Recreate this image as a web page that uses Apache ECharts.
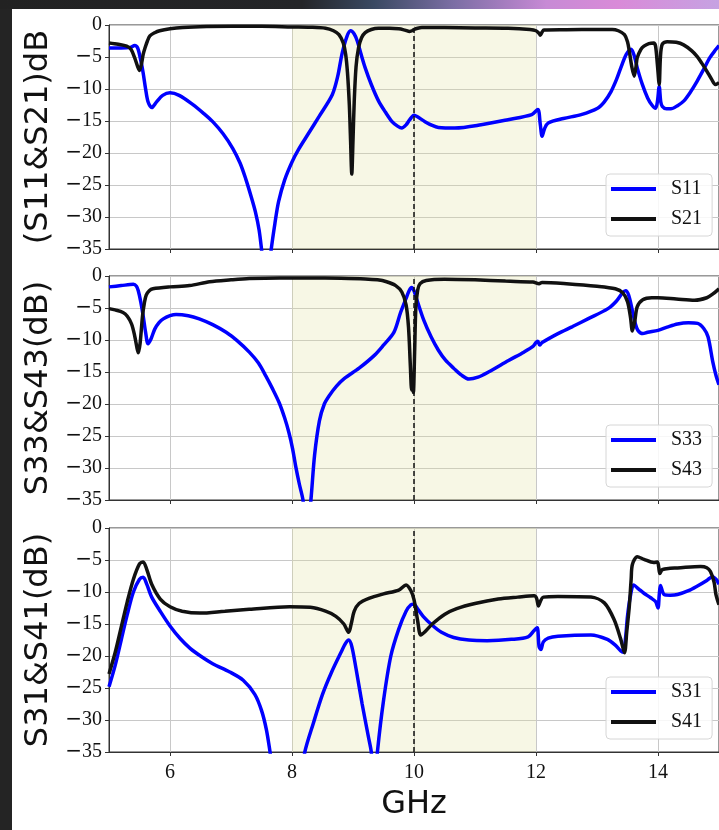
<!DOCTYPE html>
<html>
<head>
<meta charset="utf-8">
<script src="https://cdn.jsdelivr.net/npm/echarts@6/dist/echarts.min.js"></script>
<style>
  html, body { margin: 0; padding: 0; background: #242424; }
  #frame { position: relative; width: 719px; height: 830px; overflow: hidden; background: #242424; }
  #topband { position: absolute; left: 0; top: 0; width: 719px; height: 9px;
    background: linear-gradient(90deg, #222222 0%, #242528 42%, #3a4962 52%, #7b6ea4 63%, #c78ad5 76%, #d98ad8 86%, #c6a2e2 100%); }
  #sheet { position: absolute; left: 12px; top: 9px; right: 0; bottom: 0; background: #ffffff; }
  #chart { position: absolute; left: 0; top: 0; width: 719px; height: 830px; }
</style>
</head>
<body>
<div id="frame"><div id="topband"></div><div id="sheet"></div><div id="chart"></div></div>
<script>
// Frequency axis ticks (GHz) and passband shading
const freqTickValues = [6, 8, 10, 12, 14];
const passband = [8, 12];
const centreGHz = 10;

// Panel 1: S11 / S21
const s11Freq = [5.00,5.20,5.35,5.42,5.47,5.52,5.56,5.60,5.64,5.70,5.78,5.88,6.00,6.15,6.37,6.55,6.70,6.87,7.03,7.15,7.24,7.33,7.40,7.46,7.50,7.56,7.60,7.66,7.72,7.78,7.88,8.00,8.11,8.28,8.45,8.66,8.75,8.82,8.90,8.96,9.02,9.07,9.13,9.20,9.30,9.42,9.53,9.64,9.73,9.80,9.87,9.93,10.00,10.05,10.18,10.30,10.40,10.67,11.10,11.54,11.93,12.03,12.07,12.10,12.14,12.20,12.45,12.74,13.01,13.12,13.23,13.32,13.39,13.48,13.56,13.61,13.66,13.74,13.83,13.90,13.96,13.99,14.02,14.045,14.07,14.14,14.21,14.32,14.42,14.53,14.64,14.75,14.85,14.95,15.00];
const s11Db   = [-3.6,-3.6,-3.5,-3.2,-3.6,-5.5,-7.5,-10.0,-12.0,-12.9,-12.0,-11.0,-10.6,-11.0,-12.4,-13.8,-15.1,-17.0,-19.3,-21.6,-24.0,-26.8,-29.2,-32.0,-35.0,-40.0,-40.0,-35.0,-31.0,-27.6,-24.2,-21.4,-19.4,-16.8,-14.2,-10.9,-8.0,-4.5,-1.8,-0.9,-1.4,-2.5,-4.5,-6.7,-9.3,-11.9,-13.6,-15.1,-15.8,-16.1,-15.6,-14.8,-14.1,-14.3,-15.1,-15.7,-16.0,-16.1,-15.6,-14.8,-14.0,-13.2,-15.5,-17.4,-16.2,-15.3,-14.6,-14.0,-13.0,-12.0,-10.4,-8.5,-6.7,-4.6,-3.8,-4.8,-6.7,-9.2,-11.4,-12.5,-13.0,-12.0,-9.6,-12.0,-12.7,-13.1,-13.1,-12.6,-11.9,-10.5,-8.8,-6.9,-5.1,-3.8,-3.2];
const s21Freq = [5.00,5.15,5.29,5.36,5.42,5.47,5.50,5.53,5.56,5.59,5.63,5.67,5.75,5.83,6.00,6.21,6.60,7.03,7.50,8.00,8.30,8.55,8.68,8.77,8.84,8.88,8.91,8.94,8.96,8.98,9.00,9.02,9.05,9.09,9.14,9.20,9.30,9.42,9.60,9.75,9.85,9.93,9.97,10.00,10.06,10.13,10.50,11.00,11.54,11.90,12.00,12.05,12.07,12.10,12.13,12.50,13.00,13.25,13.35,13.45,13.50,13.53,13.57,13.61,13.64,13.66,13.72,13.77,13.85,13.93,13.96,13.99,14.02,14.04,14.07,14.15,14.30,14.42,14.55,14.64,14.72,14.80,14.88,14.94,15.00];
const s21Db   = [-2.8,-3.0,-3.3,-3.8,-5.1,-6.5,-7.1,-6.2,-4.6,-3.6,-2.5,-1.7,-1.2,-0.9,-0.6,-0.4,-0.25,-0.2,-0.2,-0.3,-0.35,-0.5,-0.9,-1.5,-2.8,-4.6,-7.5,-12.5,-18.0,-23.3,-18.0,-12.0,-6.5,-3.6,-2.0,-1.2,-0.7,-0.5,-0.5,-0.6,-0.8,-1.0,-0.9,-0.7,-0.5,-0.4,-0.4,-0.45,-0.5,-0.7,-0.9,-1.3,-1.6,-1.1,-0.8,-0.75,-0.7,-0.7,-0.9,-1.5,-2.6,-4.1,-6.5,-8.0,-6.5,-5.1,-3.8,-3.3,-2.9,-2.8,-3.3,-6.2,-9.3,-5.0,-3.0,-2.6,-2.7,-3.1,-4.0,-4.9,-6.0,-7.2,-8.5,-9.3,-9.0];

// Panel 2: S33 / S43
const s33Freq = [5.00,5.20,5.40,5.45,5.48,5.52,5.56,5.60,5.64,5.69,5.75,5.82,5.89,6.00,6.10,6.30,6.48,6.70,6.92,7.10,7.30,7.45,7.57,7.68,7.79,7.88,7.95,8.01,8.06,8.12,8.18,8.22,8.26,8.31,8.37,8.45,8.53,8.61,8.73,8.86,9.10,9.35,9.50,9.67,9.78,9.87,9.92,9.96,10.00,10.05,10.16,10.28,10.40,10.52,10.65,10.78,10.90,11.05,11.22,11.55,11.80,11.95,12.00,12.03,12.06,12.10,12.36,12.60,12.85,13.18,13.32,13.42,13.47,13.52,13.58,13.63,13.67,13.75,13.83,14.00,14.15,14.32,14.50,14.65,14.75,14.82,14.90,14.95,15.00];
const s33Db   = [-1.7,-1.5,-1.3,-1.6,-2.3,-4.0,-6.2,-8.8,-10.6,-9.8,-8.3,-7.3,-6.7,-6.2,-6.0,-6.2,-6.7,-7.6,-8.8,-10.1,-11.9,-13.6,-15.6,-17.6,-19.8,-22.2,-24.5,-27.0,-29.7,-32.5,-35.0,-39.0,-39.0,-35.0,-28.0,-22.6,-20.0,-18.7,-17.2,-16.0,-14.4,-12.4,-10.8,-8.8,-5.7,-3.5,-2.3,-1.8,-2.3,-3.8,-6.9,-9.5,-11.6,-13.2,-14.4,-15.5,-16.1,-15.8,-15.0,-13.2,-11.9,-11.0,-10.4,-10.2,-10.8,-10.4,-9.0,-7.9,-6.7,-5.1,-3.9,-2.6,-2.3,-3.0,-5.4,-7.5,-8.5,-9.0,-8.8,-8.5,-8.0,-7.5,-7.3,-7.4,-8.2,-9.5,-13.5,-15.5,-17.0];
const s43Freq = [5.00,5.10,5.23,5.30,5.37,5.42,5.46,5.48,5.51,5.55,5.58,5.61,5.66,5.72,6.00,6.32,6.65,7.00,7.30,7.80,8.28,8.80,9.20,9.40,9.55,9.70,9.80,9.87,9.91,9.94,9.96,9.975,9.99,10.01,10.03,10.06,10.10,10.20,10.50,11.00,11.50,11.95,12.05,12.10,12.50,13.00,13.30,13.42,13.50,13.55,13.58,13.62,13.66,13.75,13.90,14.00,14.30,14.60,14.80,14.90,15.00];
const s43Db   = [-5.1,-5.3,-5.7,-6.3,-7.5,-9.3,-11.3,-12.0,-10.5,-6.2,-4.2,-3.0,-2.3,-2.0,-1.7,-1.5,-0.9,-0.6,-0.4,-0.3,-0.3,-0.35,-0.45,-0.6,-0.9,-1.5,-2.5,-4.5,-8.0,-14.0,-17.8,-15.5,-18.2,-12.0,-5.0,-2.2,-1.2,-0.7,-0.5,-0.6,-0.8,-0.95,-1.2,-1.0,-1.2,-1.6,-2.0,-2.6,-4.0,-6.5,-8.6,-7.0,-4.8,-3.7,-3.4,-3.4,-3.6,-3.8,-3.4,-2.8,-2.0];

// Panel 3: S31 / S41
const s31Freq = [5.00,5.10,5.20,5.30,5.40,5.50,5.56,5.62,5.70,5.84,6.00,6.17,6.33,6.50,6.70,6.98,7.20,7.39,7.50,7.58,7.64,7.70,8.15,8.21,8.35,8.50,8.65,8.80,8.88,8.93,8.98,9.05,9.15,9.25,9.30,9.33,9.37,9.40,9.50,9.62,9.75,9.87,9.95,10.00,10.05,10.15,10.30,10.45,10.65,10.90,11.20,11.60,11.87,11.97,12.02,12.05,12.08,12.12,12.20,12.36,12.90,13.17,13.30,13.39,13.43,13.47,13.50,13.55,13.60,13.68,13.77,13.88,13.96,14.00,14.02,14.04,14.10,14.20,14.32,14.50,14.64,14.80,14.89,14.95,15.00];
const s31Db   = [-24.8,-21.5,-17.5,-13.5,-10.0,-8.0,-7.7,-8.8,-10.8,-13.0,-15.3,-17.3,-18.8,-20.0,-21.2,-22.5,-23.8,-26.0,-28.5,-31.5,-35.0,-39.0,-39.0,-35.0,-30.5,-26.0,-22.5,-19.5,-18.0,-17.5,-18.5,-22.0,-27.5,-32.5,-35.0,-39.0,-39.0,-35.0,-27.0,-20.0,-15.8,-13.0,-12.0,-11.9,-12.5,-13.8,-15.2,-16.3,-17.1,-17.5,-17.6,-17.4,-17.0,-16.0,-15.6,-18.5,-19.0,-17.8,-17.2,-16.9,-16.7,-17.4,-18.3,-19.2,-19.4,-17.0,-13.8,-10.5,-8.9,-9.5,-10.2,-10.9,-11.5,-12.5,-10.5,-9.0,-10.4,-10.5,-10.4,-9.8,-9.1,-8.2,-7.6,-8.0,-8.8];
const s41Freq = [5.00,5.10,5.20,5.30,5.40,5.50,5.56,5.62,5.70,5.84,6.00,6.20,6.49,6.90,7.30,7.96,8.30,8.55,8.72,8.85,8.93,8.97,9.02,9.10,9.26,9.50,9.75,9.87,9.95,10.00,10.06,10.11,10.18,10.30,10.50,10.70,11.00,11.38,11.70,11.97,12.01,12.04,12.07,12.12,12.36,12.90,13.12,13.28,13.39,13.45,13.49,13.53,13.56,13.58,13.66,13.77,13.93,13.99,14.01,14.03,14.07,14.20,14.32,14.70,14.80,14.86,14.92,14.95,15.00];
const s41Db   = [-22.8,-19.5,-15.5,-11.5,-8.0,-5.6,-5.3,-6.5,-8.8,-11.1,-12.3,-13.0,-13.3,-13.0,-12.7,-12.3,-12.4,-13.0,-13.8,-15.0,-16.3,-15.0,-13.0,-11.8,-11.0,-10.3,-9.7,-8.9,-9.8,-11.2,-14.5,-16.7,-16.2,-15.0,-13.5,-12.6,-11.8,-11.1,-10.8,-10.6,-11.0,-12.2,-11.5,-10.8,-10.7,-10.8,-11.7,-14.3,-17.4,-19.5,-16.0,-12.2,-8.0,-5.7,-4.5,-4.9,-5.4,-5.3,-6.0,-7.1,-6.5,-6.3,-6.25,-6.0,-6.2,-6.8,-8.5,-10.4,-12.0];

const zip = (xs, ys) => xs.map((x, i) => [x, ys[i]]);

const BLUE = '#0000ff';
const BLACK = '#111111';
const SERIF = 'Liberation Serif';
const SANS = 'DejaVu Sans';

const panels = [
  { top: 25,  name: '(S11&S21)dB', a: ['S11', s11Freq, s11Db], b: ['S21', s21Freq, s21Db], legendTop: 174 },
  { top: 276, name: 'S33&S43(dB)', a: ['S33', s33Freq, s33Db], b: ['S43', s43Freq, s43Db], legendTop: 425 },
  { top: 528, name: 'S31&S41(dB)', a: ['S31', s31Freq, s31Db], b: ['S41', s41Freq, s41Db], legendTop: 677 }
];

const grids = [], xAxes = [], yAxes = [], series = [], legends = [];

panels.forEach((p, i) => {
  const last = i === panels.length - 1;
  grids.push({ left: 109, top: p.top, width: 613, height: 224, show: true,
    borderColor: '#333', borderWidth: 1, backgroundColor: 'transparent' });
  xAxes.push({
    gridIndex: i, type: 'value', min: 5, max: 15,
    name: last ? 'GHz' : '', nameLocation: 'middle', nameGap: 37,
    nameTextStyle: { fontFamily: SANS, fontSize: 32, color: '#111' },
    axisLine: { show: true, onZero: false, lineStyle: { color: '#333', width: 1 } },
    axisTick: { show: true, length: 4, inside: false, customValues: freqTickValues, lineStyle: { color: '#333' } },
    axisLabel: { show: last, customValues: freqTickValues, margin: 11,
      fontFamily: SERIF, fontSize: 20, color: '#111' },
    splitLine: { show: true, lineStyle: { color: '#c8c8c8', width: 1 } }
  });
  yAxes.push({
    gridIndex: i, type: 'value', min: -35, max: 0, interval: 5,
    name: p.name, nameLocation: 'middle', nameGap: 46,
    nameTextStyle: { fontFamily: SANS, fontSize: 32, color: '#111' },
    axisLine: { show: true, lineStyle: { color: '#333', width: 1 } },
    axisTick: { show: true, length: 4, inside: false, lineStyle: { color: '#333' } },
    axisLabel: {
      margin: 7,
      formatter: v => v < 0 ? '{m|\u2212}{n|' + (-v) + '}' : '{n|' + v + '}',
      rich: {
        m: { fontFamily: SANS, fontSize: 20, color: '#111' },
        n: { fontFamily: SERIF, fontSize: 20, color: '#111' }
      }
    },
    splitLine: { show: true, lineStyle: { color: '#c8c8c8', width: 1 } }
  });
  series.push({
    type: 'line', name: p.a[0], xAxisIndex: i, yAxisIndex: i,
    data: zip(p.a[1], p.a[2]), showSymbol: false, symbol: 'none', smooth: 0.3,
    lineStyle: { color: BLUE, width: 3.5 }, itemStyle: { color: BLUE }, z: 3,
    markArea: { silent: true, itemStyle: { color: 'rgba(225,222,150,0.25)' },
      data: [[{ xAxis: passband[0] }, { xAxis: passband[1] }]] }
  });
  series.push({
    type: 'line', name: p.b[0], xAxisIndex: i, yAxisIndex: i,
    data: zip(p.b[1], p.b[2]), showSymbol: false, symbol: 'none', smooth: 0.3,
    lineStyle: { color: BLACK, width: 3.5 }, itemStyle: { color: BLACK }, z: 4,
    markLine: { silent: true, symbol: ['none', 'none'], label: { show: false },
      lineStyle: { color: '#111', width: 1.5, type: [5, 3] },
      data: [{ xAxis: centreGHz }] }
  });
  legends.push({
    data: [p.a[0], p.b[0]], orient: 'vertical', left: 606, top: p.legendTop,
    icon: 'rect', itemWidth: 45, itemHeight: 4, itemGap: 8,
    padding: [4, 10, 6, 5],
    backgroundColor: 'rgba(255,255,255,0.85)', borderColor: '#d6d6d6', borderWidth: 1, borderRadius: 4,
    textStyle: { fontFamily: SERIF, fontSize: 20, color: '#111', lineHeight: 22, padding: [0, 0, 0, 10] }
  });
});

const chart = echarts.init(document.getElementById('chart'), null, { renderer: 'canvas' });
chart.setOption({
  backgroundColor: 'transparent',
  animation: false,
  grid: grids, xAxis: xAxes, yAxis: yAxes, series: series, legend: legends
});
</script>
</body>
</html>
